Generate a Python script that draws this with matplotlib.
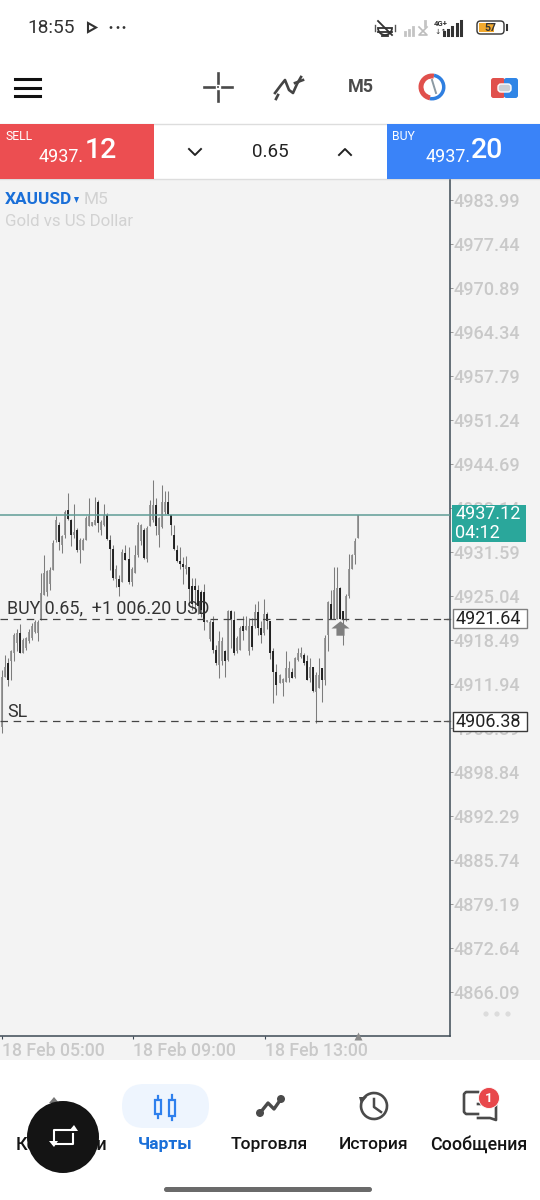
import matplotlib
matplotlib.use("Agg")
import warnings, logging
import matplotlib.pyplot as plt
from matplotlib.patches import Rectangle, Circle, FancyBboxPatch, Wedge, Polygon, Arc
from matplotlib.path import Path
logging.getLogger('matplotlib.font_manager').setLevel(logging.ERROR)
warnings.filterwarnings("ignore")

# ---- data ----
high = [4914.0,4916.3,4915.8,4917.0,4919.5,4920.1,4920.9,4918.8,4919.0,4920.2,4921.0,4921.5,4921.5,4928.4,4931.1,4928.9,4929.4,4933.4,4936.9,4936.1,
4934.1,4937.8,4940.3,4936.5,4938.8,4935.1,4933.6,4933.6,4936.9,4939.6,4936.1,4939.8,4939.3,4936.4,4938.7,4937.4,4934.1,4932.6,4929.6,4928.1,
4932.1,4932.6,4932.4,4929.3,4932.6,4936.1,4935.8,4935.1,4935.4,4939.3,4942.3,4939.6,4936.8,4941.6,4940.6,4940.6,4937.1,4935.6,4932.6,4932.3,
4930.8,4931.0,4929.3,4927.7,4927.7,4926.7,4925.9,4926.9,4921.5,4921.5,4922.0,4917.8,4919.8,4919.0,4917.0,4922.9,4922.9,4922.8,4919.1,4920.5,
4922.1,4922.1,4921.8,4921.8,4923.8,4924.3,4921.3,4924.6,4922.6,4921.3,4917.3,4914.9,4913.5,4912.8,4916.8,4915.3,4914.3,4916.0,4917.3,4917.5,
4916.5,4916.3,4915.8,4914.5,4913.8,4915.8,4914.3,4919.3,4924.3,4926.0,4929.3,4929.3,4926.4,4922.8,4925.3,4931.3,4931.3,4933.6,4937.12]
low = [4904.6,4913.0,4911.6,4912.5,4915.3,4916.8,4916.6,4916.6,4917.0,4918.0,4918.5,4919.5,4918.4,4921.5,4925.2,4925.0,4926.0,4928.9,4933.1,4931.9,
4931.4,4933.6,4936.4,4932.5,4933.6,4931.6,4930.0,4931.9,4933.4,4935.4,4935.4,4935.6,4934.6,4934.1,4935.4,4933.4,4928.9,4927.4,4926.4,4925.1,
4927.1,4930.4,4926.9,4926.6,4928.4,4930.9,4932.6,4930.6,4930.1,4935.4,4936.1,4934.1,4932.3,4935.1,4937.3,4937.1,4934.1,4931.9,4930.1,4929.1,
4926.9,4928.3,4923.8,4922.9,4922.6,4922.3,4921.9,4920.0,4921.1,4918.3,4916.5,4914.8,4912.8,4914.8,4913.0,4915.3,4917.3,4916.3,4916.5,4917.0,
4918.5,4920.0,4916.3,4917.0,4920.3,4919.3,4918.0,4919.3,4920.1,4915.6,4909.1,4910.3,4912.1,4910.1,4912.3,4912.3,4912.8,4912.8,4915.3,4915.8,
4914.8,4912.5,4912.3,4910.8,4906.2,4911.3,4909.3,4911.8,4916.8,4921.6,4921.6,4921.6,4921.6,4917.8,4921.3,4924.8,4929.1,4929.8,4933.6]
open_ = [4905.6,4913.0,4915.0,4915.3,4916.5,4918.0,4919.5,4916.6,4917.3,4918.3,4918.8,4919.7,4919.5,4921.5,4925.2,4925.7,4926.9,4928.9,4933.4,4935.6,
4932.6,4934.1,4937.8,4936.4,4934.1,4934.9,4931.9,4931.9,4933.4,4935.4,4935.4,4935.6,4939.1,4934.9,4935.6,4937.1,4933.4,4932.1,4927.6,4927.6,
4927.1,4931.4,4930.6,4927.1,4928.4,4931.1,4933.3,4934.9,4930.6,4935.4,4936.3,4938.6,4934.1,4935.3,4937.6,4939.1,4937.1,4934.1,4931.9,4930.3,
4929.8,4929.1,4929.3,4926.6,4926.6,4925.9,4925.7,4925.7,4921.1,4918.6,4921.2,4917.0,4914.8,4915.3,4916.8,4915.5,4922.8,4921.4,4916.8,4917.0,
4920.6,4920.0,4916.8,4920.6,4920.6,4922.6,4920.3,4919.6,4922.3,4921.3,4916.8,4913.8,4912.1,4912.1,4912.3,4912.8,4913.8,4913.0,4915.5,4916.0,
4916.3,4915.3,4912.8,4914.5,4910.8,4911.3,4914.3,4912.5,4919.3,4923.9,4921.6,4921.6,4926.3,4922.8,4921.6,4925.1,4929.1,4931.1,4933.6]
close = [4913.0,4914.5,4912.6,4916.8,4919.3,4919.5,4916.6,4918.5,4918.8,4919.7,4920.5,4921.2,4921.2,4925.5,4928.4,4928.7,4928.9,4932.9,4936.4,4933.1,
4933.9,4937.6,4936.5,4934.1,4934.6,4931.9,4933.4,4933.4,4936.6,4936.9,4936.0,4936.4,4935.9,4936.1,4937.1,4933.5,4932.1,4927.7,4929.1,4926.4,
4931.6,4930.4,4927.1,4929.1,4931.1,4935.6,4935.6,4930.7,4935.1,4938.6,4938.6,4935.4,4936.6,4939.1,4939.1,4937.2,4935.6,4932.0,4930.2,4929.8,
4929.3,4929.6,4926.1,4923.9,4925.9,4923.5,4922.9,4921.2,4921.4,4921.2,4917.0,4915.0,4918.3,4918.3,4915.3,4922.8,4921.6,4916.5,4918.8,4920.3,
4919.8,4920.6,4920.6,4917.5,4922.6,4920.3,4919.3,4922.3,4921.3,4916.6,4913.8,4911.8,4913.3,4912.7,4914.3,4914.3,4912.9,4915.8,4916.5,4916.5,
4915.0,4912.5,4914.5,4910.9,4913.3,4913.3,4912.5,4918.8,4924.1,4921.6,4926.0,4926.3,4921.6,4921.6,4925.1,4929.1,4931.1,4933.3,4937.12]
price_ticks = [4983.99,4977.44,4970.89,4964.34,4957.79,4951.24,4944.69,4938.14,4931.59,4925.04,4918.49,4911.94,4905.39,4898.84,4892.29,4885.74,4879.19,4872.64,4866.09]
time_labels = ["18 Feb 05:00","18 Feb 09:00","18 Feb 13:00"]
time_ticks = [0, 43.4, 87.2]
bid = 4937.12
buy_price = 4921.64
sl_price = 4906.38
buy_bar = 112
buy_arrow_price = 4920.3

W, H = 540, 1200
plt.rcParams['font.family'] = ['Roboto', 'Noto Sans', 'DejaVu Sans']
fig = plt.figure(figsize=(5.4, 12), dpi=100, facecolor='white')

def ui_axes(z):
    a = fig.add_axes([0, 0, 1, 1], zorder=z)
    a.set_xlim(0, W); a.set_ylim(H, 0); a.axis('off'); a.patch.set_alpha(0)
    return a
back = ui_axes(0)
front = ui_axes(5)
back.add_patch(Rectangle((0, 179), W, 881, fc='#f3f3f3', ec='none'))

# ---- chart ----
PX_PER_PRICE = 44 / 6.55
BAR_PX = 3.02
BAR0_PX = 1.67
def py(p): return 200 + (price_ticks[0] - p) * PX_PER_PRICE

ax = fig.add_axes([0, (H - 1036) / H, 450 / W, (1036 - 180) / H], zorder=2)
ax.patch.set_alpha(0)
ax.set_xlim(-BAR0_PX / BAR_PX, (450 - BAR0_PX) / BAR_PX)
ax.set_ylim(price_ticks[0] - 836 / PX_PER_PRICE, price_ticks[0] + 20 / PX_PER_PRICE)
for s in ('top', 'left'):
    ax.spines[s].set_visible(False)
for s in ('right', 'bottom'):
    ax.spines[s].set_color('#3d4a55'); ax.spines[s].set_linewidth(1.1)
ax.yaxis.tick_right()
ax.set_yticks(price_ticks, [f"{p:.2f}" for p in price_ticks])
ax.tick_params(axis='y', length=2, width=0.7, color='#9a9a9a', pad=0.2, labelsize=13, labelcolor='#c9c9c9')
for t in ax.get_yticklabels():
    t.set_fontweight('medium')
ax.set_xticks(time_ticks, time_labels, ha='left')
ax.tick_params(axis='x', length=2.5, width=0.8, color='#3d4a55', pad=2, labelsize=12.8, labelcolor='#c9c9c9')
for t in ax.get_xticklabels():
    t.set_fontweight('medium')

xs = list(range(len(high)))
ax.vlines(xs, low, high, color='#7c7c7c', lw=0.75, zorder=3)
for i, (o, c) in enumerate(zip(open_, close)):
    bear = c < o
    ax.vlines(i, min(o, c), max(o, c), color='#1c1c1c' if bear else '#8a8a8a',
              lw=1.35 if bear else 1.2, zorder=4)

ax.axhline(bid, color='#5f9c96', lw=1.1, zorder=5)
for lvl in (buy_price, sl_price):
    ax.axhline(lvl, color='#444444', lw=0.9, dashes=(6, 4.5), zorder=5)
arrow = Path([(-1, 0), (0, .8), (1, 0), (.45, 0), (.45, -.8), (-.45, -.8), (-.45, 0), (-1, 0)], closed=False)
ax.plot([buy_bar], [buy_arrow_price], marker=arrow, ms=13, color='#7f7f7f', mec='none', zorder=6)
ax.plot([len(high) - 1], [ax.get_ylim()[0]], marker='^', ms=6, color='#8a8a8a', mec='none', clip_on=False, zorder=6)

ax.text(7 / BAR_PX - BAR0_PX / BAR_PX, buy_price + 0.25, "BUY 0.65,  +1 006.20 USD", fontsize=12.9, color='#333333', va='bottom', zorder=7)
ax.text(7 / BAR_PX - BAR0_PX / BAR_PX, sl_price + 0.05, "SL", fontsize=12.9, color='#333333', va='bottom', zorder=7)

# price tags
front.add_patch(Rectangle((452, py(bid) - 10), 73.5, 37.5, fc='#2aa79b', ec='none'))
front.text(455.5, py(bid) - 0.5, f"{bid:.2f}", color='white', fontsize=13, va='center')
front.text(455.5, py(bid) + 18.5, "04:12", color='white', fontsize=13, va='center')
for lvl, ec in ((buy_price, '#808080'), (sl_price, '#3a3a3a')):
    front.add_patch(Rectangle((453, py(lvl) - 9.5), 74, 19, fc='white', ec=ec, lw=1))
    front.text(456, py(lvl) + 0.3, f"{lvl:.2f}", color='#222222', fontsize=13, va='center')
    front.plot([444, 450], [py(lvl)] * 2, color='#555555', lw=0.9)
for x in (486, 497, 508):
    front.add_patch(Circle((x, 1014), 2.6, fc='#dcdcdc', ec='none'))

# legend text
back.text(5, 200, "XAUUSD", color='#1a6fd8', fontsize=12.4, fontweight='bold', va='center')
front.add_patch(Polygon([(74, 197), (79, 197), (76.5, 203)], fc='#1a6fd8', ec='none'))
back.text(84, 200, "M5", color='#d2d2d2', fontsize=12.4, va='center')
back.text(5, 221, "Gold vs US Dollar", color='#d2d2d2', fontsize=12.2, va='center')

# ---- status bar ----
front.text(27, 28, "18:55", fontsize=13.8, color='#333333', va='center')
front.add_patch(Polygon([(88, 23), (96, 27.5), (88, 32)], fc='white', ec='#333333', lw=1.5))
for x in (111, 118, 124):
    front.add_patch(Circle((x, 27.5), 1.4, fc='#333333', ec='none'))
# muted bell
front.add_patch(Wedge((385, 28), 7, 0, 180, fc='none', ec='#333333', lw=1.3))
front.plot([378, 392], [32, 32], color='#333333', lw=1.3)
front.plot([378, 392], [21, 35], color='#333333', lw=1.3)
front.plot([382, 388], [36, 36], color='#333333', lw=1.3)
for x in (375, 395):
    front.plot([x, x], [25, 31], color='#555555', lw=1)
# signals
for i, h in enumerate((3, 5, 8)):
    front.plot([405 + i * 4] * 2, [35 - h, 35], color='#c4c4c4', lw=2)
front.plot([419, 427, 419, 427], [27, 35, 35, 27], color='#bdbdbd', lw=1.2)
front.plot([425, 425], [21, 26], color='#c4c4c4', lw=2)
front.text(434, 23, "4G+", fontsize=5.6, color='#333333', va='center', fontweight='bold')
front.text(434, 32, "↓↑", fontsize=5.4, color='#333333', va='center', family=['DejaVu Sans'])
for i, h in enumerate((3, 5, 8, 11, 14)):
    front.plot([444 + i * 4.2] * 2, [35 - h, 35], color='#333333', lw=2.2)
front.add_patch(FancyBboxPatch((477, 21), 27, 13, boxstyle='round,pad=0,rounding_size=3.5', fc='white', ec='#333333', lw=1))
front.add_patch(Rectangle((479, 23), 14.5, 9, fc='#f1a92e', ec='none'))
front.plot([507, 507], [25, 30], color='#333333', lw=1.5)
front.text(490.5, 27.8, "57", fontsize=7.6, color='#333333', ha='center', va='center', fontweight='bold')

# ---- toolbar ----
for y in (79, 88, 96):
    front.plot([15, 40], [y, y], color='#111111', lw=2.2)
c = (218, 87)
for (x0, y0, x1, y1) in ((204, 87, 214, 87), (222, 87, 232, 87), (218, 73, 218, 83), (218, 91, 218, 101)):
    front.plot([x0, x1], [y0, y1], color='#4a4a4a', lw=1.9)
front.add_patch(Circle(c, 1, fc='#4a4a4a', ec='none'))
front.plot([275, 281, 285, 289, 293, 297, 301], [93, 85, 80, 90, 93, 84, 77], color='#444444', lw=1.9)
front.plot([278, 276], [95, 99], color='#444444', lw=1.9)
front.plot([295, 303], [83, 80], color='#444444', lw=1.9)
front.text(361, 87, "M5", fontsize=13, color='#4a4a4a', ha='center', va='center', fontweight='bold')
front.add_patch(Wedge((432, 87), 13.5, 100, 280, width=5, fc='#e0504c', ec='none'))
front.add_patch(Wedge((432, 87), 13.5, -80, 100, width=3.5, fc='#2f7fe0', ec='none'))
front.plot([432, 436], [80, 93], color='#8c9aa3', lw=1.4)
front.add_patch(FancyBboxPatch((491, 78), 14, 20, boxstyle='round,pad=0,rounding_size=2.5', fc='#e0504c', ec='none'))
front.add_patch(FancyBboxPatch((504, 78), 14, 20, boxstyle='round,pad=0,rounding_size=2.5', fc='#2f85e6', ec='none'))
front.add_patch(FancyBboxPatch((498, 84), 13, 8, boxstyle='round,pad=0,rounding_size=3', fc='#c9ced4', ec='white', lw=1))

# ---- sell / buy bar ----
back.plot([0, W], [124, 124], color='#dddddd', lw=1)
back.plot([0, W], [179, 179], color='#dddddd', lw=1)
front.add_patch(Rectangle((0, 124), 154, 55, fc='#ec4e51', ec='none'))
front.add_patch(Rectangle((387, 124), 153, 55, fc='#3a83f8', ec='none'))
front.text(5, 137, "SELL", fontsize=8.8, color='white', va='center')
front.text(39, 157, "4937.", fontsize=13, color='white', va='center')
front.text(85, 151, "12", fontsize=20.5, color='white', va='center', fontweight='medium')
front.text(392, 137, "BUY", fontsize=8.8, color='white', va='center')
front.text(426, 157, "4937.", fontsize=13, color='white', va='center')
front.text(471, 151, "20", fontsize=20.5, color='white', va='center', fontweight='medium')
front.text(270, 152, "0.65", fontsize=13.5, color='#222222', ha='center', va='center')
front.plot([189, 195, 201], [149, 155, 149], color='#222222', lw=1.4)
front.plot([339, 345, 351], [155, 149, 155], color='#222222', lw=1.4)

# ---- bottom navigation ----
front.add_patch(Rectangle((0, 1060), W, 140, fc='white', ec='none'))
front.add_patch(FancyBboxPatch((122, 1084), 87, 44, boxstyle='round,pad=0,rounding_size=22', fc='#eef5fe', ec='none'))
NAVC = '#141414'
front.text(61, 1145, "Котировки", fontsize=12.9, color=NAVC, ha='center', va='center', fontweight='medium')
front.text(165.5, 1145, "Чарты", fontsize=12.6, color='#1a6fd8', ha='center', va='center', fontweight='bold')
front.text(269.5, 1145, "Торговля", fontsize=12.6, color=NAVC, ha='center', va='center', fontweight='medium')
front.text(374, 1145, "История", fontsize=12.6, color=NAVC, ha='center', va='center', fontweight='medium')
front.text(478.5, 1145, "Сообщения", fontsize=12.9, color=NAVC, ha='center', va='center', fontweight='medium')
# hidden quote icon and round overlay button
front.add_patch(Polygon([(49, 1103), (54, 1097), (59, 1103)], fc='#777777', ec='none'))
front.add_patch(Circle((63, 1137), 36, fc='#141414', ec='none', zorder=6))
front.plot([54, 54, 74, 74], [1140, 1130, 1130, 1128], color='white', lw=1.5, zorder=7)
front.plot([73, 73, 53], [1134, 1144, 1144], color='white', lw=1.5, zorder=7)
front.add_patch(Polygon([(69, 1131), (74, 1125), (78, 1131)], fc='white', ec='none', zorder=7))
front.add_patch(Polygon([(49, 1141), (54, 1147), (58, 1141)], fc='white', ec='none', zorder=7))
# candles icon
for x, (t, b, bt, bb) in ((158, (1096, 1118, 1100, 1114)), (172, (1095, 1120, 1100, 1116))):
    front.plot([x, x], [t, b], color='#2f80ed', lw=1.6)
    front.add_patch(Rectangle((x - 3, bt), 6, bb - bt, fc='#eef5fe', ec='#2f80ed', lw=1.6, zorder=4))
# trading icon
front.plot([260, 268, 274, 281], [1113, 1103, 1109, 1099], color='#4a4a4a', lw=2.4)
for x, y, r in ((260, 1113, 4), (281, 1099, 4)):
    front.add_patch(Circle((x, y), r, fc='#4a4a4a', ec='none'))
# history icon
front.add_patch(Arc((374, 1106), 26, 26, theta1=-210, theta2=150, color='#4a4a4a', lw=1.9))
front.plot([374, 374, 381], [1099, 1107, 1112], color='#4a4a4a', lw=1.8)
front.add_patch(Polygon([(359, 1097), (367, 1097), (361, 1104)], fc='#4a4a4a', ec='none'))
# messages icon
front.plot([478, 466, 464, 464, 466, 478], [1092, 1092, 1094, 1112, 1114, 1114], color='#4a4a4a', lw=1.9)
front.plot([478, 496, 496, 490, 478], [1104, 1104, 1120, 1118, 1118], color='#4a4a4a', lw=1.9)
front.add_patch(Circle((489, 1098), 10.5, fc='#e8474b', ec='white', lw=0.6, zorder=7))
front.text(489, 1098, "1", fontsize=9.5, color='white', ha='center', va='center', fontweight='bold', zorder=8)
front.add_patch(FancyBboxPatch((164, 1187), 208, 5, boxstyle='round,pad=0,rounding_size=2.5', fc='#6a6a6a', ec='none'))

fig.savefig('out.png', dpi=100)
